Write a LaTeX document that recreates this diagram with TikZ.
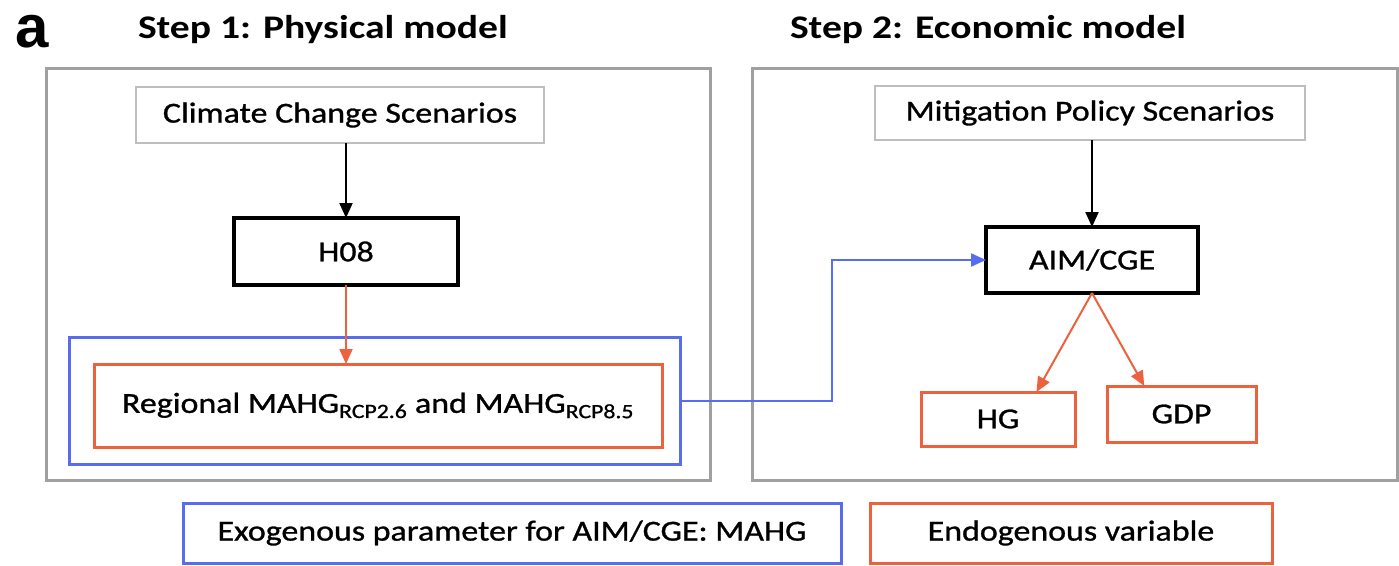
\documentclass[tikz,border=0pt]{standalone}
\usepackage{fontspec}
\setmainfont{Carlito}[FakeStretch=1.2]
\newfontfamily\boxfont{Carlito}[FakeStretch=1.17, FakeBold=1]
\newfontfamily\panelfont{Liberation Sans}
\usetikzlibrary{arrows.meta,calc}
\definecolor{framegray}{RGB}{160,160,160}
\definecolor{scengray}{RGB}{190,190,190}
\definecolor{endored}{RGB}{236,98,62}
\definecolor{exoblue}{RGB}{88,108,238}
\begin{document}
\begin{tikzpicture}[x=1pt,y=-1pt,
  every node/.style={inner sep=0pt, outer sep=0pt},
  box/.style={draw, rectangle, font=\boxfont\fontsize{29}{34}\selectfont},
  frame/.style={draw=framegray, line width=3pt},
  scen/.style={box, draw=scengray, line width=2.5pt},
  model/.style={box, draw=black, line width=3.5pt},
  endo/.style={box, draw=endored, line width=3pt},
  exo/.style={box, draw=exoblue, line width=3pt},
  title/.style={font=\fontsize{33}{40}\selectfont\bfseries, anchor=base west},
  flow/.style={-{Triangle[length=15pt,width=13pt]}, line width=2pt},
]
\useasboundingbox (0,0) rectangle (1399,565);
\fill[white] (0,0) rectangle (1399,565);

% panel label and step titles
\node[anchor=base west, font=\panelfont\fontsize{60}{60}\selectfont\bfseries] (panel) at (15,47) {a};
\node[title] (t1) at (138,38) {Step 1: Physical model};
\node[title] (t2) at (790,38) {Step 2: Economic model};

% step frames
\node[frame, minimum width=664pt, minimum height=412pt] (lframe) at (378,274) {};
\node[frame, minimum width=645pt, minimum height=412pt] (rframe) at (1074.5,274) {};

% step 1: physical model
\node[scen, minimum width=408pt, minimum height=56pt] (ccs) at (340,115) {Climate Change Scenarios};
\node[model, minimum width=224pt, minimum height=67pt] (h08) at (346,251.5) {H08};
\node[exo, minimum width=611pt, minimum height=127pt] (exobox) at (374.5,400.5) {};
\node[endo, minimum width=568pt, minimum height=83pt] (mahg) at (378,405.5)
  {Regional MAHG\textsubscript{RCP2.6} and MAHG\textsubscript{RCP8.5}};

% step 2: economic model
\node[scen, minimum width=430pt, minimum height=54pt] (mps) at (1090,113) {Mitigation Policy Scenarios};
\node[model, minimum width=212pt, minimum height=66pt] (aim) at (1092,260) {AIM/CGE};
\node[endo, minimum width=154pt, minimum height=54pt] (hg) at (998,419) {HG};
\node[endo, minimum width=149pt, minimum height=56pt] (gdp) at (1181.5,414) {GDP};

% legend
\node[exo, minimum width=658pt, minimum height=60pt] (legexo) at (512,533) {Exogenous parameter for AIM/CGE: MAHG};
\node[endo, minimum width=402pt, minimum height=60pt] (legendo) at (1071,533) {Endogenous variable};

% connectors
\draw[flow, black] (h08.north |- ccs.south) -- (h08.north);
\draw[flow, endored] (h08.south) -- (h08.south |- mahg.north);
\draw[flow, black] (aim.north |- mps.south) -- (aim.north);
\coordinate (bend) at (832,0);
\draw[flow, exoblue] (exobox.east) -- (exobox.east -| bend) |- (aim.west);
\draw[flow, endored] (aim.south) -- ($(hg.north)!0.5!(hg.north east)$);
\draw[flow, endored] (aim.south) -- ($(gdp.north west)!0.5!(gdp.north)$);
\end{tikzpicture}
\end{document}
